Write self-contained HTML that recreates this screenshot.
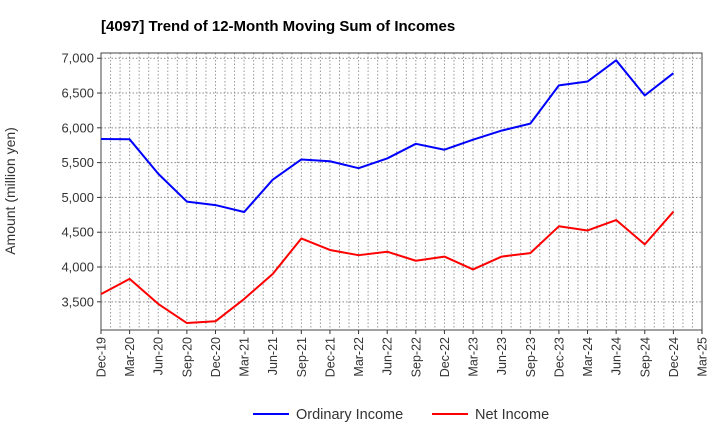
<!DOCTYPE html>
<html><head><meta charset="utf-8"><style>
body{margin:0;background:#fff;font-family:"Liberation Sans",sans-serif}
svg text{font-family:"Liberation Sans",sans-serif}
</style></head><body>
<svg id="chart" width="720" height="440" xmlns="http://www.w3.org/2000/svg">
<text x="101" y="31" font-size="15" font-weight="bold" fill="#000">[4097]  Trend of 12-Month Moving Sum of Incomes</text>
<text transform="translate(15,191) rotate(-90)" text-anchor="middle" font-size="14" fill="#333">Amount (million yen)</text>
<g id="grid"></g><g id="axes"></g><g id="series"></g>
<g>
<line x1="253" y1="414" x2="289" y2="414" stroke="#0000ff" stroke-width="2"/>
<text x="296" y="419" font-size="14.5" fill="#333">Ordinary Income</text>
<line x1="432" y1="414" x2="468" y2="414" stroke="#ff0000" stroke-width="2"/>
<text x="475" y="419" font-size="14.5" fill="#333">Net Income</text>
</g>
</svg>
<script>
const categories=["Dec-19","Mar-20","Jun-20","Sep-20","Dec-20","Mar-21","Jun-21","Sep-21","Dec-21","Mar-22","Jun-22","Sep-22","Dec-22","Mar-23","Jun-23","Sep-23","Dec-23","Mar-24","Jun-24","Sep-24","Dec-24","Mar-25"];
const ordinaryIncome=[5840,5835,5340,4940,4890,4790,5255,5545,5520,5420,5560,5770,5685,5830,5960,6060,6610,6665,6970,6465,6785];
const netIncome=[3610,3830,3470,3195,3220,3540,3900,4410,4245,4170,4220,4090,4150,3965,4150,4200,4585,4525,4675,4325,4795];
const yTicks=[3500,4000,4500,5000,5500,6000,6500,7000];
const L=101,R=702,T=53,B=330,yMin=3095,yMax=7075;
const ns="http://www.w3.org/2000/svg";
const xs=i=>L+i*(R-L)/(categories.length-1);
const ys=v=>B-(v-yMin)/(yMax-yMin)*(B-T);
function mk(tag,attrs,parent){const e=document.createElementNS(ns,tag);for(const k in attrs)e.setAttribute(k,attrs[k]);parent.appendChild(e);return e;}
const grid=document.getElementById('grid'),axes=document.getElementById('axes'),ser=document.getElementById('series');
const months=(categories.length-1)*3;
for(let m=1;m<months;m++){const x=L+m*(R-L)/months;const l=mk('line',{x1:x,x2:x,y1:T,y2:B,stroke:'#999','stroke-dasharray':'1.5,2','stroke-width':1},grid);

}
yTicks.forEach(v=>{const y=ys(v);const l=mk('line',{x1:L,x2:R,y1:y,y2:y,stroke:'#888','stroke-dasharray':'1.5,2','stroke-width':1},grid);


mk('line',{x1:L-4,x2:L,y1:y,y2:y,stroke:'#333'},axes);
const t=mk('text',{x:L-7,y:y+4.5,'text-anchor':'end','font-size':13,fill:'#333'},axes);t.textContent=v.toLocaleString('en-US');

});
categories.forEach((c,i)=>{const x=xs(i);mk('line',{x1:x,x2:x,y1:B,y2:B+4,stroke:'#333'},axes);
const t=mk('text',{transform:`translate(${x+4.5},${B+7}) rotate(-90)`,'text-anchor':'end','font-size':12.5,fill:'#333'},axes);t.textContent=c;

});
const fr=mk('rect',{x:L,y:T,width:R-L,height:B-T,fill:'none',stroke:'#444','stroke-width':1},axes);


function line(data,color,name){const p=mk('polyline',{points:data.map((v,i)=>xs(i)+','+ys(v)).join(' '),fill:'none',stroke:color,'stroke-width':2,'stroke-linejoin':'round'},ser);

}
line(ordinaryIncome,'#0000ff','ordinary-income-line');
line(netIncome,'#ff0000','net-income-line');
</script>
</body></html>
